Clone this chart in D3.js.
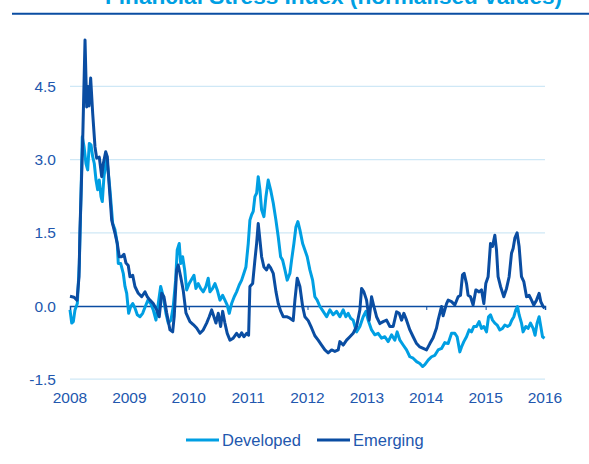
<!DOCTYPE html>
<html>
<head>
<meta charset="utf-8">
<script src="https://cdn.jsdelivr.net/npm/d3@7"></script>
<style>
  body { margin: 0; background: #fff; }
  text { font-family: "Liberation Sans", Arial, sans-serif; }
</style>
</head>
<body>
<script>
// decimal years and normalised index values
var devDates = [2008.000,2008.029,2008.056,2008.084,2008.123,2008.157,2008.185,2008.207,2008.236,2008.269,2008.298,2008.325,2008.354,2008.382,2008.409,2008.438,2008.466,2008.493,2008.522,2008.544,2008.572,2008.618,2008.673,2008.719,2008.758,2008.796,2008.813,2008.854,2008.897,2008.926,2008.955,2008.988,2009.022,2009.056,2009.094,2009.133,2009.178,2009.224,2009.268,2009.313,2009.359,2009.402,2009.448,2009.487,2009.527,2009.571,2009.616,2009.655,2009.700,2009.739,2009.779,2009.806,2009.840,2009.864,2009.897,2009.931,2009.965,2010.008,2010.049,2010.088,2010.121,2010.160,2010.200,2010.244,2010.290,2010.328,2010.357,2010.402,2010.441,2010.480,2010.525,2010.571,2010.609,2010.648,2010.682,2010.722,2010.766,2010.806,2010.850,2010.891,2010.929,2010.963,2011.002,2011.030,2011.059,2011.086,2011.114,2011.143,2011.170,2011.199,2011.227,2011.266,2011.300,2011.338,2011.379,2011.423,2011.468,2011.507,2011.547,2011.581,2011.620,2011.658,2011.704,2011.732,2011.771,2011.805,2011.838,2011.872,2011.918,2011.956,2011.995,2012.040,2012.086,2012.124,2012.163,2012.209,2012.264,2012.322,2012.377,2012.433,2012.490,2012.545,2012.601,2012.646,2012.685,2012.726,2012.769,2012.826,2012.882,2012.938,2012.983,2013.022,2013.079,2013.135,2013.190,2013.247,2013.303,2013.359,2013.416,2013.471,2013.510,2013.556,2013.611,2013.668,2013.724,2013.779,2013.837,2013.892,2013.938,2013.976,2014.032,2014.089,2014.145,2014.200,2014.258,2014.313,2014.369,2014.426,2014.481,2014.520,2014.566,2014.594,2014.633,2014.678,2014.722,2014.762,2014.801,2014.847,2014.890,2014.931,2014.970,2015.015,2015.049,2015.082,2015.116,2015.155,2015.194,2015.239,2015.284,2015.323,2015.369,2015.407,2015.441,2015.475,2015.508,2015.537,2015.564,2015.604,2015.631,2015.677,2015.715,2015.756,2015.800,2015.833,2015.867,2015.901,2015.929,2015.958,2015.992];
var devValues = [-0.08,-0.35,-0.32,-0.08,0.05,0.87,2.24,3.47,3.27,2.92,2.79,3.33,3.30,3.06,2.92,2.58,2.38,2.58,2.24,2.14,2.65,3.06,2.38,1.69,1.56,1.28,0.87,0.87,0.67,0.40,0.26,-0.15,-0.01,0.05,-0.04,-0.18,-0.22,-0.15,-0.01,0.12,0.05,-0.08,-0.29,0.05,0.40,0.19,-0.15,-0.35,-0.29,-0.01,0.53,1.15,1.28,0.87,1.01,0.74,0.33,0.46,0.55,0.63,0.36,0.46,0.36,0.29,0.40,0.57,0.29,0.36,0.46,0.33,0.12,0.22,0.12,0.02,-0.15,0.05,0.19,0.29,0.43,0.53,0.67,0.80,1.28,1.76,1.87,1.94,2.24,2.31,2.65,2.38,1.97,1.83,2.24,2.58,2.38,2.11,1.76,1.42,1.01,0.94,0.74,0.53,0.67,0.94,1.28,1.62,1.73,1.56,1.28,1.15,1.01,0.74,0.53,0.19,0.12,-0.01,-0.11,-0.22,-0.08,-0.18,-0.11,-0.22,-0.08,-0.22,-0.15,-0.25,-0.29,-0.53,-0.42,-0.22,-0.11,-0.29,-0.49,-0.59,-0.56,-0.66,-0.63,-0.73,-0.59,-0.70,-0.53,-0.70,-0.80,-0.90,-1.04,-1.07,-1.14,-1.18,-1.24,-1.20,-1.11,-1.04,-1.01,-0.90,-0.87,-0.75,-0.77,-0.56,-0.56,-0.63,-0.94,-0.84,-0.73,-0.63,-0.49,-0.53,-0.42,-0.42,-0.32,-0.46,-0.42,-0.53,-0.22,-0.18,-0.29,-0.35,-0.39,-0.49,-0.46,-0.39,-0.42,-0.39,-0.29,-0.22,-0.08,-0.01,-0.18,-0.35,-0.53,-0.42,-0.46,-0.35,-0.46,-0.60,-0.35,-0.22,-0.42,-0.63,-0.66];

var emDates = [2008.000,2008.067,2008.118,2008.152,2008.168,2008.214,2008.253,2008.281,2008.303,2008.320,2008.348,2008.382,2008.421,2008.449,2008.493,2008.534,2008.561,2008.601,2008.628,2008.662,2008.702,2008.758,2008.796,2008.830,2008.870,2008.909,2008.943,2008.981,2009.010,2009.056,2009.094,2009.150,2009.207,2009.263,2009.301,2009.347,2009.402,2009.460,2009.503,2009.544,2009.582,2009.628,2009.684,2009.729,2009.756,2009.796,2009.823,2009.864,2009.907,2009.953,2010.020,2010.076,2010.133,2010.189,2010.244,2010.301,2010.345,2010.386,2010.424,2010.458,2010.497,2010.537,2010.571,2010.609,2010.648,2010.694,2010.749,2010.806,2010.850,2010.891,2010.929,2010.975,2011.008,2011.030,2011.076,2011.114,2011.143,2011.170,2011.199,2011.227,2011.266,2011.311,2011.345,2011.379,2011.423,2011.468,2011.507,2011.547,2011.591,2011.648,2011.704,2011.759,2011.788,2011.827,2011.872,2011.918,2011.956,2012.012,2012.069,2012.124,2012.180,2012.237,2012.293,2012.348,2012.406,2012.461,2012.517,2012.545,2012.601,2012.658,2012.714,2012.769,2012.826,2012.882,2012.911,2012.949,2012.995,2013.039,2013.079,2013.118,2013.163,2013.219,2013.274,2013.332,2013.387,2013.443,2013.500,2013.544,2013.584,2013.623,2013.668,2013.724,2013.779,2013.837,2013.892,2013.948,2014.005,2014.061,2014.116,2014.173,2014.200,2014.258,2014.284,2014.342,2014.369,2014.426,2014.481,2014.537,2014.577,2014.611,2014.638,2014.678,2014.705,2014.745,2014.789,2014.835,2014.890,2014.931,2014.970,2015.003,2015.042,2015.082,2015.116,2015.155,2015.183,2015.210,2015.251,2015.306,2015.352,2015.396,2015.436,2015.463,2015.492,2015.530,2015.564,2015.604,2015.643,2015.689,2015.732,2015.773,2015.811,2015.857,2015.901,2015.929,2015.968,2015.992];
var emValues = [0.20,0.18,0.12,0.60,1.56,3.40,5.45,4.08,4.50,4.10,4.67,3.95,3.26,3.03,3.05,2.65,2.92,3.16,3.06,2.44,1.76,1.49,1.28,1.01,1.01,1.06,0.88,0.83,0.60,0.63,0.40,0.26,0.19,0.29,0.19,0.12,0.05,-0.08,-0.22,0.26,0.19,-0.14,-0.49,-0.53,-0.20,0.74,0.84,0.60,0.32,-0.14,-0.32,-0.38,-0.45,-0.56,-0.49,-0.35,-0.22,-0.08,-0.22,-0.35,-0.15,-0.42,-0.11,-0.35,-0.56,-0.70,-0.66,-0.56,-0.63,-0.55,-0.63,-0.56,-0.60,0.40,0.46,0.94,1.28,1.69,1.35,1.01,0.80,0.74,0.84,0.78,0.67,0.30,0.05,-0.10,-0.22,-0.22,-0.25,-0.30,0.12,0.57,0.40,-0.01,-0.22,-0.30,-0.45,-0.61,-0.70,-0.80,-0.90,-0.96,-0.90,-0.93,-0.90,-0.73,-0.80,-0.70,-0.63,-0.56,-0.42,-0.08,0.36,0.29,0.12,-0.29,0.19,-0.01,-0.22,-0.36,-0.32,-0.29,-0.42,-0.42,-0.12,-0.15,-0.29,-0.15,-0.29,-0.49,-0.63,-0.77,-0.84,-0.87,-0.90,-0.77,-0.65,-0.45,-0.29,-0.01,-0.20,0.05,0.12,0.09,0.02,0.19,0.22,0.64,0.67,0.46,0.22,0.19,0.02,0.33,0.29,0.33,0.05,0.46,0.60,1.28,1.22,1.45,1.15,0.60,0.40,0.19,0.36,0.60,1.08,1.18,1.39,1.50,1.22,0.60,0.50,0.19,0.22,0.12,0.02,0.12,0.26,0.09,-0.01,-0.05];

var yTicks = [-1.5, 0.0, 1.5, 3.0, 4.5];
var xTicks = [2008, 2009, 2010, 2011, 2012, 2013, 2014, 2015, 2016];
var seriesNames = ["Developed", "Emerging"];
var colors = ["#009fe3", "#0a4da2"];
var textColor = "#2257ae";

var width = 589, height = 464;

var svg = d3.select("body").append("svg")
    .attr("width", width)
    .attr("height", height);

// title, mostly cut off at the top of the picture
svg.append("text")
    .attr("x", 105)
    .attr("y", 4)
    .style("font-size", "22.6px")
    .style("font-weight", "bold")
    .style("fill", "#009fe3")
    .text("Financial Stress Index (normalised values)");

svg.append("line")
    .attr("x1", 12).attr("x2", 589)
    .attr("y1", 13.7).attr("y2", 13.7)
    .style("stroke", "#0a4da2")
    .style("stroke-width", 2);

var x = d3.scaleLinear().domain([2008, 2016]).range([70, 545]);
var y = d3.scaleLinear().domain([-1.5, 6]).range([379.2, 13.2]);

// gridlines
svg.selectAll("line.grid")
    .data(yTicks.filter(function(d) { return d !== 0; }))
  .enter().append("line")
    .attr("class", "grid")
    .attr("x1", x(2008)).attr("x2", x(2016))
    .attr("y1", function(d) { return y(d); })
    .attr("y2", function(d) { return y(d); })
    .style("stroke", "#cfe8f6")
    .style("stroke-width", 1.3);

// y labels
svg.selectAll("text.ylab")
    .data(yTicks)
  .enter().append("text")
    .attr("class", "ylab")
    .attr("x", 56)
    .attr("y", function(d) { return y(d) + 5.5; })
    .attr("text-anchor", "end")
    .style("font-size", "15.5px")
    .style("fill", textColor)
    .text(function(d) { return d3.format(".1f")(d).replace("−", "-"); });

// zero axis with year ticks
var xAxis = svg.append("g")
    .attr("transform", "translate(0," + y(0) + ")")
    .call(d3.axisBottom(x).tickValues(xTicks).tickSize(4).tickFormat(""));
xAxis.select(".domain").style("stroke", "#0a4da2").style("stroke-width", 1.5);
xAxis.selectAll(".tick line").style("stroke", "#0a4da2").style("stroke-width", 1);

svg.selectAll("text.xlab")
    .data(xTicks)
  .enter().append("text")
    .attr("class", "xlab")
    .attr("x", function(d) { return x(d); })
    .attr("y", 403)
    .attr("text-anchor", "middle")
    .style("font-size", "15.5px")
    .style("fill", textColor)
    .text(function(d) { return d; });

var line = d3.line()
    .x(function(d) { return x(d[0]); })
    .y(function(d) { return y(d[1]); });

var series = [d3.zip(devDates, devValues), d3.zip(emDates, emValues)];

svg.selectAll("path.series")
    .data(series)
  .enter().append("path")
    .attr("class", "series")
    .attr("d", line)
    .style("fill", "none")
    .style("stroke", function(d, i) { return colors[i]; })
    .style("stroke-width", 3)
    .style("stroke-linejoin", "round");

// legend
var legendX = [186, 317];
var legend = svg.selectAll("g.legend")
    .data(seriesNames)
  .enter().append("g")
    .attr("class", "legend")
    .attr("transform", function(d, i) { return "translate(" + legendX[i] + ",440)"; });

legend.append("line")
    .attr("x1", 0).attr("x2", 33)
    .style("stroke", function(d, i) { return colors[i]; })
    .style("stroke-width", 3);

legend.append("text")
    .attr("x", 36)
    .attr("y", 6)
    .style("font-size", "16.5px")
    .style("fill", textColor)
    .text(function(d) { return d; });
</script>
</body>
</html>
